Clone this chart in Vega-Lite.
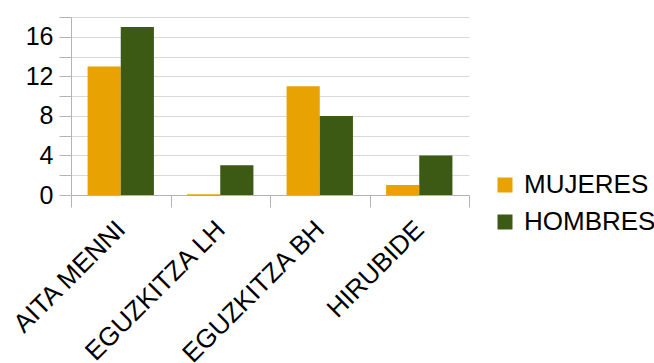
{
  "$schema": "https://vega.github.io/schema/vega-lite/v6.json",
  "width": 398,
  "height": 178,
  "autosize": "none",
  "padding": {"left": 71, "top": 17, "right": 185, "bottom": 168},
  "background": "white",
  "config": {
    "font": "Liberation Sans",
    "view": {"stroke": null}
  },
  "data": {
    "values": [
      {"centro": "AITA MENNI", "sexo": "MUJERES", "n": 13},
      {"centro": "AITA MENNI", "sexo": "HOMBRES", "n": 17},
      {"centro": "EGUZKITZA LH", "sexo": "MUJERES", "n": 0},
      {"centro": "EGUZKITZA LH", "sexo": "HOMBRES", "n": 3},
      {"centro": "EGUZKITZA BH", "sexo": "MUJERES", "n": 11},
      {"centro": "EGUZKITZA BH", "sexo": "HOMBRES", "n": 8},
      {"centro": "HIRUBIDE", "sexo": "MUJERES", "n": 1},
      {"centro": "HIRUBIDE", "sexo": "HOMBRES", "n": 4}
    ]
  },
  "mark": {"type": "bar", "stroke": {"expr": "datum.n == 0 ? '#e8a202' : null"}, "strokeWidth": 1},
  "encoding": {
    "x": {
      "field": "centro",
      "type": "nominal",
      "sort": null,
      "title": null,
      "scale": {"paddingInner": 0, "paddingOuter": 0},
      "axis": {
        "tickBand": "extent",
        "labelAngle": -45,
        "labelAlign": "right",
        "labelBaseline": "middle",
        "labelFontSize": 26,
        "labelColor": "black",
        "labelPadding": 18,
        "labelLimit": 0,
        "tickSize": 12,
        "tickColor": "#b3b3b3",
        "domainColor": "#b3b3b3",
        "grid": false
      }
    },
    "xOffset": {
      "field": "sexo",
      "type": "nominal",
      "sort": ["MUJERES", "HOMBRES"],
      "scale": {"paddingOuter": 0.5, "paddingInner": 0}
    },
    "y": {
      "field": "n",
      "type": "quantitative",
      "title": null,
      "scale": {"domain": [0, 18], "nice": false},
      "axis": {
        "values": [0, 2, 4, 6, 8, 10, 12, 14, 16, 18],
        "labelExpr": "datum.value % 4 == 0 ? datum.label : ''",
        "labelFontSize": 25,
        "labelColor": "black",
        "labelPadding": 6,
        "tickSize": 12,
        "tickColor": "#b3b3b3",
        "domainColor": "#b3b3b3",
        "gridColor": "#d9d9d9",
        "gridWidth": 1
      }
    },
    "color": {
      "field": "sexo",
      "type": "nominal",
      "sort": ["MUJERES", "HOMBRES"],
      "scale": {"domain": ["MUJERES", "HOMBRES"], "range": ["#e8a202", "#3c5a14"]},
      "legend": {
        "title": null,
        "orient": "none",
        "legendX": 421,
        "legendY": 155,
        "padding": 0,
        "symbolType": "square",
        "symbolSize": 225,
        "symbolStrokeWidth": 0,
        "symbolOpacity": 1,
        "labelFontSize": 26,
        "labelColor": "black",
        "labelOffset": 6,
        "rowPadding": 11
      }
    }
  }
}
